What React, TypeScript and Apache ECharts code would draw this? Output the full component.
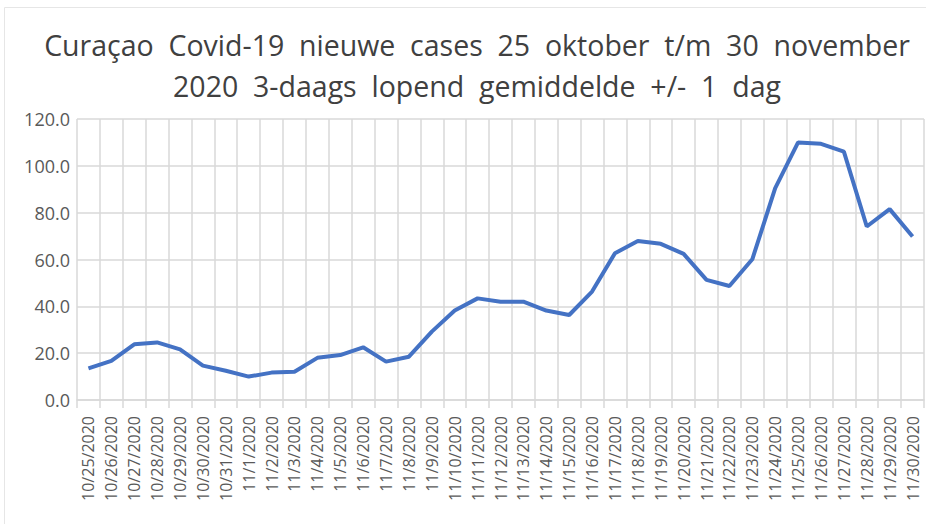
import React, { useEffect, useRef } from "react";
import * as echarts from "echarts";

const titleLines = [
  "Curaçao  Covid-19  nieuwe  cases  25  oktober  t/m  30  november",
  "2020  3-daags  lopend  gemiddelde  +/-  1  dag",
];

const categories = [
  "10/25/2020", "10/26/2020", "10/27/2020", "10/28/2020", "10/29/2020", "10/30/2020", "10/31/2020",
  "11/1/2020", "11/2/2020", "11/3/2020", "11/4/2020", "11/5/2020", "11/6/2020", "11/7/2020",
  "11/8/2020", "11/9/2020", "11/10/2020", "11/11/2020", "11/12/2020", "11/13/2020", "11/14/2020",
  "11/15/2020", "11/16/2020", "11/17/2020", "11/18/2020", "11/19/2020", "11/20/2020", "11/21/2020",
  "11/22/2020", "11/23/2020", "11/24/2020", "11/25/2020", "11/26/2020", "11/27/2020", "11/28/2020",
  "11/29/2020", "11/30/2020",
];

const values = [
  13.5, 16.7, 23.8, 24.6, 21.6, 14.7, 12.5,
  10.0, 11.7, 12.1, 18.0, 19.2, 22.5, 16.4,
  18.5, 29.2, 38.2, 43.4, 42.0, 42.0, 38.2,
  36.3, 46.3, 62.7, 67.9, 66.7, 62.4, 51.3,
  48.7, 60.1, 90.5, 110.0, 109.4, 106.1, 74.1,
  81.5, 69.8,
];

const yTicks = { min: 0, max: 120, interval: 20 };

export default function App() {
  const ref = useRef<HTMLDivElement>(null);
  useEffect(() => {
    if (!ref.current) return;
    const chart = echarts.init(ref.current, null, { renderer: "svg" });
    const gridColor = "#d9d9d9";
    chart.setOption({
      animation: false,
      backgroundColor: "#ffffff",
      textStyle: { fontFamily: "Open Sans" },
      title: {
        text: titleLines.join("\n"),
        left: 472,
        top: 19,
        textAlign: "center",
        textStyle: {
          fontFamily: "Open Sans",
          fontSize: 28.5,
          fontWeight: "normal",
          color: "#404040",
          lineHeight: 41,
        },
      },
      graphic: [
        {
          type: "rect",
          shape: { x: 4.5, y: 7.5, width: 930, height: 530 },
          style: { fill: "none", stroke: "#e6e6e6", lineWidth: 1 },
          silent: true,
        },
      ],
      grid: { left: 77, right: 2, top: 119, bottom: 124, containLabel: false },
      xAxis: {
        type: "category",
        data: categories,
        boundaryGap: true,
        axisLine: { show: true, lineStyle: { color: gridColor, width: 1.5 } },
        axisTick: { show: true, length: 8, interval: 0, lineStyle: { color: gridColor, width: 1.5 } },
        splitLine: { show: true, interval: 0, lineStyle: { color: gridColor, width: 1.5 } },
        axisLabel: {
          interval: 0,
          rotate: 90,
          margin: 16,
          fontSize: 16,
          color: "#595959",
          fontFamily: "Open Sans",
        },
      },
      yAxis: {
        type: "value",
        min: yTicks.min,
        max: yTicks.max,
        interval: yTicks.interval,
        axisLine: { show: false },
        axisTick: { show: false },
        splitLine: { show: true, lineStyle: { color: gridColor, width: 1.5 } },
        axisLabel: {
          fontSize: 18,
          color: "#595959",
          margin: 7,
          fontFamily: "Open Sans",
          formatter: (v: number) => v.toFixed(1),
        },
      },
      series: [
        {
          type: "line",
          data: values,
          symbol: "none",
          lineStyle: { color: "#4472c4", width: 4 },
          itemStyle: { color: "#4472c4" },
        },
      ],
    });
    return () => chart.dispose();
  }, []);
  return (
    <div
      ref={ref}
      style={{ position: "fixed", left: 0, top: 0, width: 926, height: 524 }}
    />
  );
}
